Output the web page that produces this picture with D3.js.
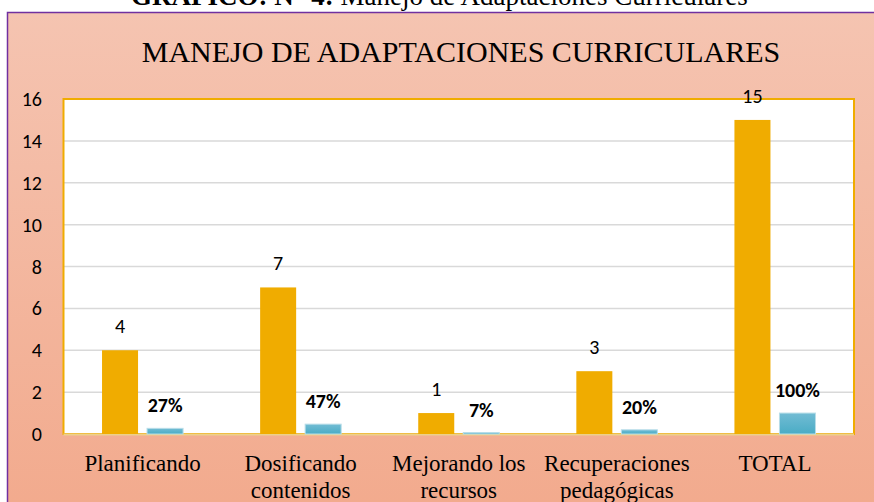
<!DOCTYPE html>
<html>
<head>
<meta charset="utf-8">
<script src="https://cdn.jsdelivr.net/npm/d3@7"></script>
<style>
  html, body { margin: 0; padding: 0; background: #fff; }
  svg { display: block; }
  .serif { font-family: "Liberation Serif", Tinos, serif; }
  .sans { font-family: Carlito, Calibri, Lato, sans-serif; }
</style>
</head>
<body>
<div id="chart"></div>
<script>
const categories = [
  ["Planificando"],
  ["Dosificando", "contenidos"],
  ["Mejorando los", "recursos"],
  ["Recuperaciones", "pedagógicas"],
  ["TOTAL"],
];
const counts = [4, 7, 1, 3, 15];
const percents = [0.27, 0.47, 0.07, 0.2, 1];
const percentLabels = ["27%", "47%", "7%", "20%", "100%"];
const yTicks = [0, 2, 4, 6, 8, 10, 12, 14, 16];

const width = 874;
const height = 502;
const plot = { left: 63.5, right: 854, top: 99, bottom: 434 };

const svg = d3
  .select("#chart")
  .append("svg")
  .attr("width", width)
  .attr("height", height);

const defs = svg.append("defs");
const bgGrad = defs
  .append("linearGradient")
  .attr("id", "bg")
  .attr("x1", 0)
  .attr("y1", 0)
  .attr("x2", 0)
  .attr("y2", 1);
bgGrad.append("stop").attr("offset", "0%").attr("stop-color", "#F5C4B1");
bgGrad.append("stop").attr("offset", "100%").attr("stop-color", "#F2AA8D");

const blueGrad = defs
  .append("linearGradient")
  .attr("id", "blue")
  .attr("x1", 0)
  .attr("y1", 0)
  .attr("x2", 0)
  .attr("y2", 1);
blueGrad.append("stop").attr("offset", "0%").attr("stop-color", "#72BCD4");
blueGrad.append("stop").attr("offset", "100%").attr("stop-color", "#4AACC5");

// caption, cut off by the top of the page as in the original
svg
  .append("text")
  .attr("class", "serif")
  .attr("x", 131)
  .attr("y", 5)
  .attr("font-size", 27)
  .attr("fill", "#000")
  .call((t) => {
    t.append("tspan").attr("font-weight", "bold").text("GRAFICO: N° 4:");
    t.append("tspan").text(" Manejo de Adaptaciones Curriculares");
  });

// chart area
svg
  .append("rect")
  .attr("x", 7.5)
  .attr("y", 12.5)
  .attr("width", width)
  .attr("height", height)
  .attr("fill", "url(#bg)")
  .attr("stroke", "#7030A0")
  .attr("stroke-width", 1.5);

svg
  .append("text")
  .attr("class", "serif")
  .attr("x", 461)
  .attr("y", 62)
  .attr("text-anchor", "middle")
  .attr("font-size", 30)
  .attr("fill", "#000")
  .text("MANEJO DE ADAPTACIONES CURRICULARES");

const x0 = d3
  .scaleBand()
  .domain(d3.range(categories.length))
  .range([plot.left, plot.right])
  .padding(0);

const x1 = d3
  .scaleBand()
  .domain(["count", "pct"])
  .range([0, x0.bandwidth()])
  .paddingInner(0.2)
  .paddingOuter(0.856);

const y = d3.scaleLinear().domain([0, 16]).range([plot.bottom, plot.top]);

// plot area
svg
  .append("rect")
  .attr("x", plot.left)
  .attr("y", plot.top)
  .attr("width", plot.right - plot.left)
  .attr("height", plot.bottom - plot.top)
  .attr("fill", "#fff");

svg
  .append("g")
  .attr("stroke", "#D9D9D9")
  .attr("stroke-width", 1.5)
  .selectAll("line")
  .data(yTicks.filter((d) => d > 0 && d < 16))
  .join("line")
  .attr("x1", plot.left)
  .attr("x2", plot.right)
  .attr("y1", (d) => y(d))
  .attr("y2", (d) => y(d));

svg
  .append("rect")
  .attr("x", plot.left)
  .attr("y", plot.top)
  .attr("width", plot.right - plot.left)
  .attr("height", plot.bottom - plot.top)
  .attr("fill", "none")
  .attr("stroke", "#F0AC00")
  .attr("stroke-width", 2);

svg
  .append("line")
  .attr("x1", plot.left)
  .attr("x2", plot.right)
  .attr("y1", y(0) + 0.5)
  .attr("y2", y(0) + 0.5)
  .attr("stroke", "#EDD08A")
  .attr("stroke-width", 2);

// bars
svg
  .append("g")
  .selectAll("rect")
  .data(counts)
  .join("rect")
  .attr("x", (d, i) => x0(i) + x1("count"))
  .attr("width", x1.bandwidth())
  .attr("y", (d) => y(d))
  .attr("height", (d) => y(0) - y(d))
  .attr("fill", "#F0AC00");

svg
  .append("g")
  .selectAll("rect")
  .data(percents)
  .join("rect")
  .attr("x", (d, i) => x0(i) + x1("pct"))
  .attr("width", x1.bandwidth())
  .attr("y", (d) => y(d))
  .attr("height", (d) => y(0) - y(d))
  .attr("fill", "url(#blue)")
  .attr("stroke", "#B7DDE8")
  .attr("stroke-width", 1);

// value labels
svg
  .append("g")
  .attr("class", "sans")
  .attr("font-size", 20)
  .attr("text-anchor", "middle")
  .selectAll("text")
  .data(counts)
  .join("text")
  .attr("x", (d, i) => x0(i) + x1("count") + x1.bandwidth() / 2)
  .attr("y", (d) => y(d) - 17)
  .text((d) => d);

svg
  .append("g")
  .attr("class", "sans")
  .attr("font-size", 20)
  .attr("font-weight", "bold")
  .attr("text-anchor", "middle")
  .selectAll("text")
  .data(percents)
  .join("text")
  .attr("x", (d, i) => x0(i) + x1("pct") + x1.bandwidth() / 2)
  .attr("y", (d) => y(d) - 16)
  .text((d, i) => percentLabels[i]);

// y axis labels
svg
  .append("g")
  .attr("class", "sans")
  .attr("font-size", 20)
  .attr("text-anchor", "end")
  .selectAll("text")
  .data(yTicks)
  .join("text")
  .attr("x", 42)
  .attr("y", (d) => y(d))
  .attr("dy", "0.35em")
  .text((d) => d);

// x axis labels
svg
  .append("g")
  .attr("class", "serif")
  .attr("font-size", 23)
  .attr("text-anchor", "middle")
  .selectAll("text")
  .data(categories)
  .join("text")
  .attr("x", (d, i) => x0(i) + x0.bandwidth() / 2)
  .attr("y", 471)
  .selectAll("tspan")
  .data((d) => d)
  .join("tspan")
  .attr("x", function () {
    return this.parentNode.getAttribute("x");
  })
  .attr("dy", (d, i) => (i === 0 ? 0 : 27))
  .text((d) => d);
</script>
</body>
</html>
